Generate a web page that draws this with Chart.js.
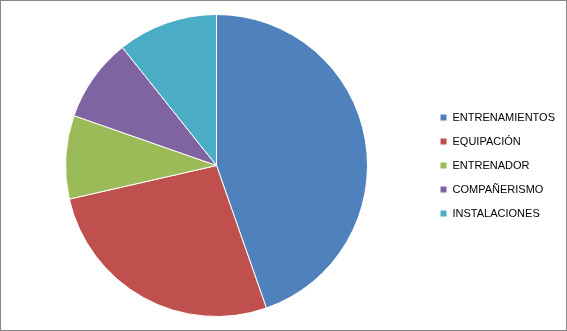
<!DOCTYPE html>
<html>
<head>
<meta charset="utf-8">
<style>
* {
  margin: 0;
  padding: 0;
}
body {
  background: #fff;
}
.chartBox {
  width: 567px;
  height: 331px;
  box-sizing: border-box;
  border: 1px solid #878787;
  background: white;
}
</style>
</head>
<body>
<div class="chartBox">
  <canvas id="myChart"></canvas>
</div>
<script src="https://cdn.jsdelivr.net/npm/chart.js"></script>
<script>
// setup
const categories = ['ENTRENAMIENTOS', 'EQUIPACIÓN', 'ENTRENADOR', 'COMPAÑERISMO', 'INSTALACIONES'];
const values = [25, 15, 5, 5, 6];
const colors = ['#4F81BD', '#C0504D', '#9BBB59', '#8064A2', '#4BACC6'];

const data = {
  labels: categories,
  datasets: [{
    data: values,
    backgroundColor: colors,
    borderColor: '#ffffff',
    borderWidth: 1
  }]
};

// config
const config = {
  type: 'pie',
  data,
  options: {
    responsive: true,
    maintainAspectRatio: false,
    animation: false,
    layout: {
      padding: { top: 13, bottom: 13, left: 5, right: 1 }
    },
    plugins: {
      tooltip: { enabled: false },
      legend: {
        position: 'right',
        labels: {
          boxWidth: 7,
          boxHeight: 7,
          padding: 13,
          color: '#000',
          font: { family: "'Liberation Sans', sans-serif", size: 11 }
        }
      }
    }
  }
};

const myChart = new Chart(document.getElementById('myChart'), config);
</script>
</body>
</html>
